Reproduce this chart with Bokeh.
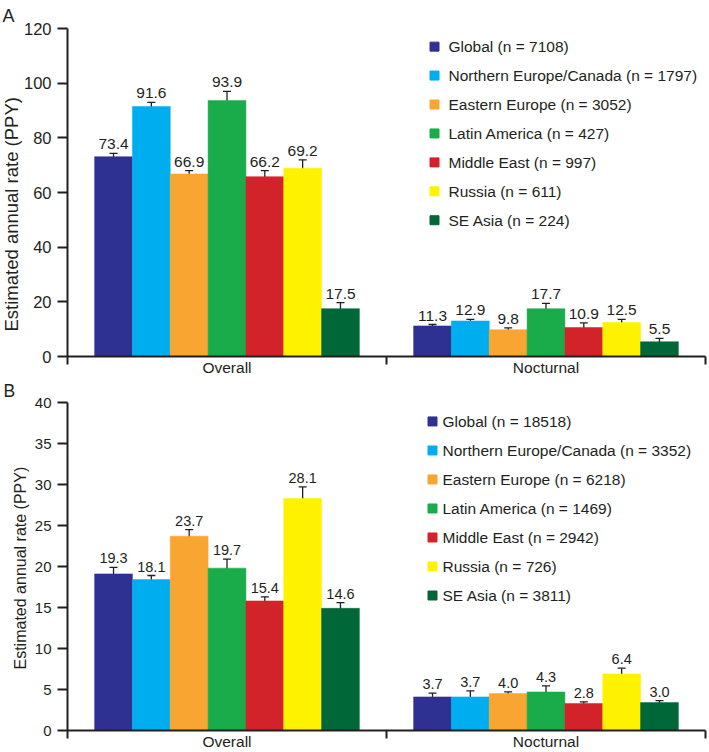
from bokeh.plotting import figure
from bokeh.models import ColumnDataSource, Whisker, TeeHead, FixedTicker, Range1d, Title
from bokeh.layouts import column
from bokeh.embed import file_html
from bokeh.resources import INLINE
from bokeh.core.properties import value

FONT = "Liberation Sans"
INK = "#231F20"

# ---------------- data ----------------
regions = ["Global", "Northern Europe/Canada", "Eastern Europe", "Latin America",
           "Middle East", "Russia", "SE Asia"]
colors = ["#2E3192", "#00AEEF", "#F8A531", "#1AAB4B", "#D2232A", "#FFF200", "#006838"]
categories = ["Overall", "Nocturnal"]

# Panel A
a_n = [7108, 1797, 3052, 427, 997, 611, 224]
a_overall_labels = ["73.4", "91.6", "66.9", "93.9", "66.2", "69.2", "17.5"]
a_nocturnal_labels = ["11.3", "12.9", "9.8", "17.7", "10.9", "12.5", "5.5"]
a_overall_bars = [73.1, 91.5, 66.8, 93.7, 65.8, 68.9, 17.5]
a_nocturnal_bars = [11.2, 13.0, 9.8, 17.5, 10.6, 12.4, 5.4]
a_overall_low = [71.0, 90.0, 65.8, 90.6, 64.5, 66.7, 15.3]
a_overall_high = [74.3, 93.0, 68.0, 97.0, 68.0, 71.9, 19.7]
a_nocturnal_low = [9.9, 12.1, 9.3, 16.3, 10.2, 11.5, 4.7]
a_nocturnal_high = [11.7, 13.6, 10.5, 19.4, 12.3, 13.6, 6.6]

# Panel B
b_n = [18518, 3352, 6218, 1469, 2942, 726, 3811]
b_overall_labels = ["19.3", "18.1", "23.7", "19.7", "15.4", "28.1", "14.6"]
b_nocturnal_labels = ["3.7", "3.7", "4.0", "4.3", "2.8", "6.4", "3.0"]
b_overall_bars = [19.1, 18.4, 23.7, 19.8, 15.8, 28.3, 14.9]
b_nocturnal_bars = [4.1, 4.1, 4.5, 4.7, 3.3, 6.9, 3.4]
b_overall_low = [17.3, 17.9, 22.8, 19.1, 15.0, 26.9, 14.4]
b_overall_high = [19.9, 18.9, 24.5, 20.9, 16.3, 29.7, 15.6]
b_nocturnal_low = [3.0, 3.5, 4.27, 4.47, 2.97, 6.18, 3.2]
b_nocturnal_high = [4.55, 4.84, 4.7, 5.44, 3.5, 7.6, 3.65]

Y_TITLE = "Estimated annual rate (PPY)"


def make_panel(letter, ymax, ystep, n_list, bars, labels, lows, highs,
               height, top, bottom, tick_fs, ytitle_fs, ytitle_offset, ytitle_standoff,
               value_fs, letter_fs, letter_x, letter_valign, letter_standoff,
               leg_row0, leg_step, leg_sq_x, leg_text_x):
    W, L, R = 708, 67, 3
    p = figure(width=W, height=height, output_backend="svg", toolbar_location=None,
               x_range=Range1d(0, 2), y_range=Range1d(0, ymax),
               min_border_left=L, min_border_right=R,
               min_border_top=top, min_border_bottom=bottom,
               title=letter)
    p.title.text_font = FONT
    p.title.text_font_size = letter_fs
    p.title.text_font_style = "normal"
    p.title.text_color = INK
    p.title.align = "left"
    p.title.vertical_align = letter_valign
    p.title.offset = letter_x - L
    p.title.standoff = letter_standoff
    p.outline_line_color = None
    p.grid.visible = False
    p.background_fill_color = "white"
    p.border_fill_color = "white"

    fw = W - L - R
    fh = height - top - bottom

    def px_x(px):
        return (px - L) / fw * 2.0

    def px_y(py):
        return ymax * (height - bottom - py) / fh

    group_w = 0.83
    bw = group_w / len(regions)

    xs, tops, cols, lo, hi, txt = [], [], [], [], [], []
    for c in range(len(categories)):
        for i in range(len(regions)):
            xs.append(c + 0.5 + (i - 3) * bw)
            tops.append(bars[c][i])
            cols.append(colors[i])
            lo.append(lows[c][i])
            hi.append(highs[c][i])
            txt.append(labels[c][i])
    src = ColumnDataSource(dict(x=xs, top=tops, color=cols, lower=lo, upper=hi, label=txt))

    p.vbar(x="x", top="top", width=bw, bottom=0, fill_color="color", line_color="color",
           line_width=0.5, source=src)

    head = dict(size=8, line_color=INK, line_width=1.3)
    p.add_layout(Whisker(base="x", lower="lower", upper="upper", source=src,
                         line_color=INK, line_width=1.3,
                         upper_head=TeeHead(**head), lower_head=TeeHead(**head)))

    p.text(x="x", y="upper", text="label", source=src, text_align="center",
           text_baseline="alphabetic", y_offset=-9, text_font=value(FONT),
           text_font_size=value_fs, text_color=INK)

    # legend (drawn inside the frame)
    leg_y = [px_y(leg_row0 + leg_step * i) for i in range(len(regions))]
    p.scatter(x=[px_x(leg_sq_x)] * len(regions), y=leg_y, marker="square", size=9,
              fill_color=colors, line_color=colors)
    p.text(x=[px_x(leg_text_x)] * len(regions), y=leg_y,
           text=[f"{r} (n = {n})" for r, n in zip(regions, n_list)],
           text_align="left", text_baseline="middle", text_font=value(FONT),
           text_font_size="15.5px", text_color=INK)

    # x axis
    xa = p.xaxis[0]
    xa.ticker = FixedTicker(ticks=[0.5, 1.5], minor_ticks=[0, 1, 2])
    xa.major_label_overrides = {0.5: categories[0], 1.5: categories[1]}
    xa.major_tick_out = 0
    xa.major_tick_in = 0
    xa.minor_tick_out = 8
    xa.minor_tick_in = 0
    xa.minor_tick_line_color = INK
    xa.minor_tick_line_width = 2
    xa.axis_line_color = INK
    xa.axis_line_width = 2
    xa.major_label_standoff = -6
    xa.major_label_text_font = FONT
    xa.major_label_text_font_size = "15.5px"
    xa.major_label_text_color = INK

    # y axis
    ya = p.yaxis[0]
    ya.ticker = FixedTicker(ticks=list(range(0, ymax + 1, ystep)))
    ya.major_tick_out = 10
    ya.major_tick_in = 0
    ya.major_tick_line_color = INK
    ya.major_tick_line_width = 2
    ya.minor_tick_line_color = None
    ya.axis_line_color = INK
    ya.axis_line_width = 2
    ya.major_label_standoff = 6
    ya.major_label_text_font = FONT
    ya.major_label_text_font_size = tick_fs
    ya.major_label_text_color = INK

    p.add_layout(Title(text=Y_TITLE, align="left", offset=ytitle_offset,
                       standoff=ytitle_standoff, text_font=FONT,
                       text_font_size=ytitle_fs, text_font_style="normal",
                       text_color=INK), "left")
    return p


pa = make_panel("A", 120, 20, a_n,
                [a_overall_bars, a_nocturnal_bars],
                [a_overall_labels, a_nocturnal_labels],
                [a_overall_low, a_nocturnal_low],
                [a_overall_high, a_nocturnal_high],
                height=378, top=27, bottom=20, tick_fs="16.5px", ytitle_fs="18.5px",
                ytitle_offset=25, ytitle_standoff=-3,
                value_fs="15.5px", letter_fs="18px", letter_x=2,
                letter_valign="bottom", letter_standoff=6,
                leg_row0=45.3, leg_step=29.2, leg_sq_x=434, leg_text_x=448)

pb = make_panel("B", 40, 5, b_n,
                [b_overall_bars, b_nocturnal_bars],
                [b_overall_labels, b_nocturnal_labels],
                [b_overall_low, b_nocturnal_low],
                [b_overall_high, b_nocturnal_high],
                height=374, top=24, bottom=21, tick_fs="15px", ytitle_fs="16px",
                ytitle_offset=61, ytitle_standoff=5,
                value_fs="14.5px", letter_fs="17.5px", letter_x=3,
                letter_valign="top", letter_standoff=0,
                leg_row0=43, leg_step=29.1, leg_sq_x=432, leg_text_x=442)

layout = column(pa, pb)
open("out.html", "w").write(file_html(layout, INLINE))
